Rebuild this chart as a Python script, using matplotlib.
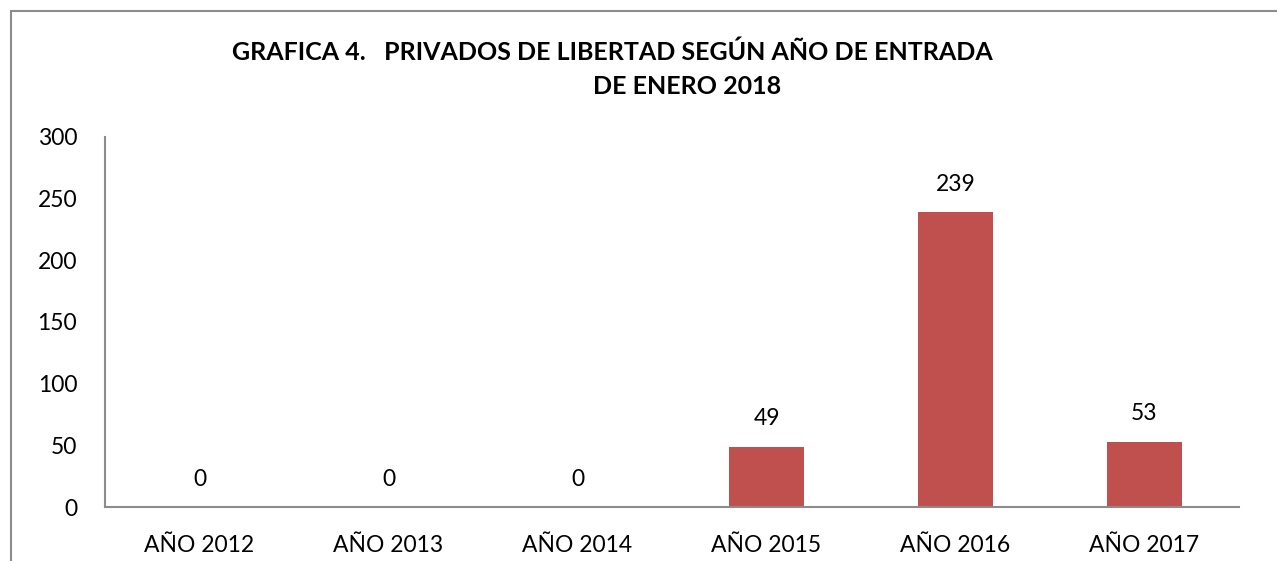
import matplotlib.pyplot as plt
from matplotlib.patches import Rectangle

# Datos
categorias = ["AÑO 2012", "AÑO 2013", "AÑO 2014", "AÑO 2015", "AÑO 2016", "AÑO 2017"]
valores = [0, 0, 0, 49, 239, 53]
y_ticks = [0, 50, 100, 150, 200, 250, 300]

plt.rcParams["font.family"] = ["Lato", "DejaVu Sans"]

fig = plt.figure(figsize=(12.77, 5.61), dpi=100)
ax = fig.add_axes([105 / 1277, 54 / 561, 1134 / 1277, 370 / 561])

# Marco del grafico
fig.patches.append(Rectangle((11 / 1277, -0.1), 1.2, (550 / 561) + 0.1,
                             transform=fig.transFigure, fill=False,
                             edgecolor="#8c8c8c", linewidth=1.5))

x = range(len(categorias))
barras = ax.bar(x, valores, width=0.4, color="#C0504D")

for xi, v in zip(x, valores):
    ax.annotate(str(v), (xi, v), xytext=(0, 20), textcoords="offset points",
                ha="center", va="center", fontsize=16.5, color="black")

ax.set_xlim(-0.5, len(categorias) - 0.5)
ax.set_ylim(0, 300)
ax.set_yticks(y_ticks)
ax.set_xticks(list(x))
ax.set_xticklabels(categorias)
ax.tick_params(axis="both", length=0, labelsize=16.5)
ax.tick_params(axis="y", pad=20)
ax.tick_params(axis="x", pad=20)

for lado in ["top", "right"]:
    ax.spines[lado].set_visible(False)
for lado in ["left", "bottom"]:
    ax.spines[lado].set_color("#8c8c8c")
    ax.spines[lado].set_linewidth(1.5)

# Titulo en dos lineas
fig.text(612 / 1277, 1 - 52 / 561, "GRAFICA 4.   PRIVADOS DE LIBERTAD SEGÚN AÑO DE ENTRADA",
         ha="center", va="center", fontsize=18, fontweight="bold")
fig.text(687 / 1277, 1 - 87 / 561, "DE ENERO 2018",
         ha="center", va="center", fontsize=18, fontweight="bold")

plt.savefig("out.png", dpi=100)
plt.close()
